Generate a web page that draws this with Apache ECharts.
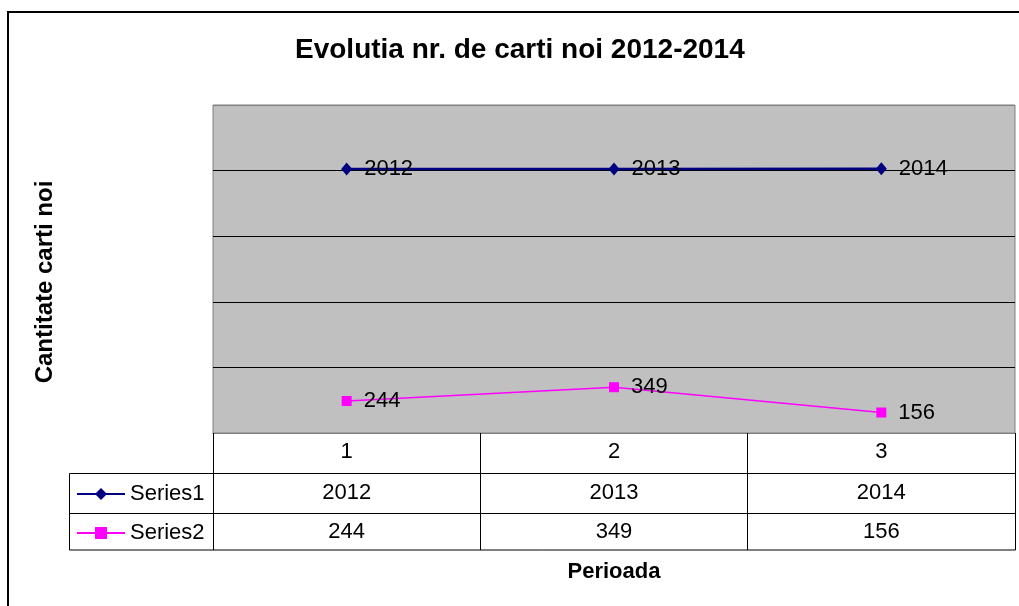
<!DOCTYPE html>
<html>
<head>
<meta charset="utf-8">
<script src="https://cdn.jsdelivr.net/npm/echarts@6/dist/echarts.min.js"></script>
<style>
  html, body { margin: 0; padding: 0; background: #fff; }
  #chart { width: 1019px; height: 606px; }
</style>
</head>
<body>
<div id="chart"></div>
<script>
// date grafic
var categories = ['1', '2', '3'];
var seriesNames = ['Series1', 'Series2'];
var series1 = [2012, 2013, 2014];
var series2 = [244, 349, 156];
var yMax = 2500;
var yStep = 500;

var FONT = '"Liberation Sans", Arial, sans-serif';

var myChart = echarts.init(document.getElementById('chart'));

// eticheta pentru randurile tabelului de date
function tableAxis(data, offset, tickLen, margin) {
    return {
        type: 'category',
        gridIndex: 0,
        position: 'bottom',
        offset: offset,
        data: data,
        axisLine: { show: true, lineStyle: { color: '#000', width: 1 } },
        axisTick: { show: true, interval: 0, length: tickLen, lineStyle: { color: '#000', width: 1 } },
        axisLabel: { margin: margin, color: '#000', fontSize: 22, fontFamily: FONT, interval: 0 },
        splitLine: { show: false }
    };
}

var xAxis0 = tableAxis(categories, 0, 40, 8);
xAxis0.axisLine.lineStyle.color = '#808080';

myChart.setOption({
    animation: false,
    backgroundColor: '#fff',
    title: {
        text: 'Evolutia nr. de carti noi 2012-2014',
        left: 295,
        top: 36,
        padding: 0,
        textStyle: { fontSize: 28, fontWeight: 'bold', color: '#000', fontFamily: FONT }
    },
    legend: [
        {
            data: [seriesNames[0]],
            left: 76, top: 483, padding: 0,
            itemWidth: 48, itemHeight: 15,
            textStyle: { fontSize: 22, color: '#000', fontFamily: FONT }
        },
        {
            data: [seriesNames[1]],
            left: 76, top: 522, padding: 0,
            itemWidth: 48, itemHeight: 15,
            textStyle: { fontSize: 22, color: '#000', fontFamily: FONT }
        }
    ],
    grid: {
        left: 213, right: 4, top: 105, bottom: 173,
        show: true,
        backgroundColor: '#C0C0C0',
        borderColor: '#808080',
        borderWidth: 1
    },
    xAxis: [
        xAxis0,
        tableAxis(series1.map(String), 40, 40, 9),
        tableAxis(series2.map(String), 80, 37, 8)
    ],
    yAxis: {
        type: 'value',
        min: 0, max: yMax, interval: yStep,
        axisLine: { show: false },
        axisTick: { show: false },
        axisLabel: { show: false },
        splitLine: {
            show: true,
            lineStyle: { color: ['#808080', '#000', '#000', '#000', '#000', '#808080'], width: 1 }
        }
    },
    series: [
        {
            name: seriesNames[0],
            type: 'line',
            xAxisIndex: 0,
            data: series1,
            symbol: 'diamond',
            symbolSize: [11, 13],
            itemStyle: { color: '#000080' },
            lineStyle: { color: '#000080', width: 2.5 },
            label: { show: true, position: 'right', distance: 12, color: '#000', fontSize: 22, fontFamily: FONT }
        },
        {
            name: seriesNames[1],
            type: 'line',
            xAxisIndex: 0,
            data: series2,
            symbol: 'rect',
            symbolSize: 10,
            itemStyle: { color: '#FF00FF' },
            lineStyle: { color: '#FF00FF', width: 1.5 },
            label: { show: true, position: 'right', distance: 12, color: '#000', fontSize: 22, fontFamily: FONT }
        }
    ],
    graphic: [
        // chenar exterior
        {
            type: 'rect', silent: true,
            shape: { x: 8, y: 12, width: 1100, height: 700 },
            style: { fill: 'none', stroke: '#000', lineWidth: 2 }
        },
        // coloana legendei din tabel
        {
            type: 'rect', silent: true,
            shape: { x: 69.5, y: 473.5, width: 946, height: 76.5 },
            style: { fill: 'none', stroke: '#000', lineWidth: 1 }
        },
        {
            type: 'line', silent: true,
            shape: { x1: 69.5, y1: 513.5, x2: 213, y2: 513.5 },
            style: { stroke: '#000', lineWidth: 1 }
        },
        {
            type: 'text', silent: true,
            x: 45, y: 282, rotation: Math.PI / 2,
            style: {
                text: 'Cantitate carti noi', fontSize: 24, fontWeight: 'bold', fill: '#000',
                fontFamily: FONT, align: 'center', verticalAlign: 'middle'
            }
        },
        {
            type: 'text', silent: true,
            x: 614, y: 572,
            style: {
                text: 'Perioada', fontSize: 22, fontWeight: 'bold', fill: '#000',
                fontFamily: FONT, align: 'center', verticalAlign: 'middle'
            }
        }
    ]
});
</script>
</body>
</html>
